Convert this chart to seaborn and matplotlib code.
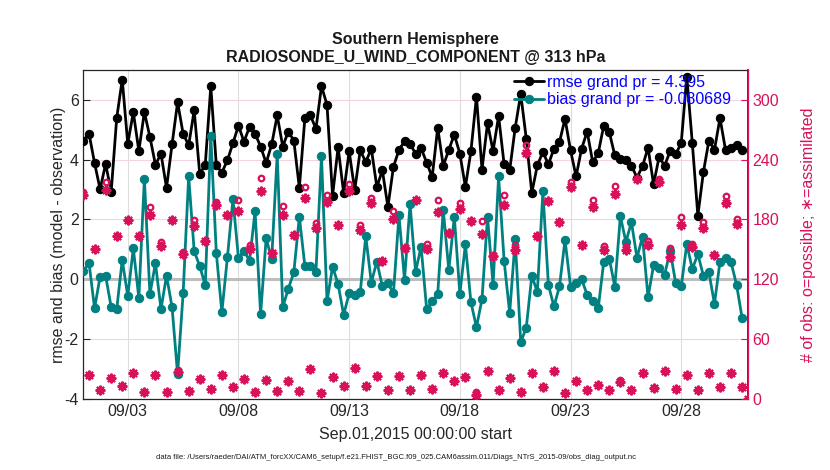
import numpy as np
import pandas as pd
import matplotlib
matplotlib.use("Agg")
import matplotlib.pyplot as plt
import seaborn as sns

# ---------------- data ----------------
title_lines = ["Southern Hemisphere", "RADIOSONDE_U_WIND_COMPONENT @ 313 hPa"]
xtick_days = [2, 7, 12, 17, 22, 27]
xtick_labels = ["09/03", "09/08", "09/13", "09/18", "09/23", "09/28"]
left_ticks = [-4, -2, 0, 2, 4, 6]
right_ticks = [0, 60, 120, 180, 240, 300]

rmse = [4.64, 4.87, 3.89, 3.01, 3.86, 2.92, 5.39, 6.68, 4.53, 5.59,
        4.29, 5.59, 4.76, 3.83, 4.20, 3.06, 4.51, 5.92, 4.87, 4.48,
        5.65, 3.52, 3.83, 6.45, 3.81, 3.57, 3.98, 4.55, 5.14, 4.60,
        5.10, 4.87, 4.44, 3.89, 4.51, 5.48, 4.44, 4.94, 4.64, 3.06,
        5.39, 5.48, 5.03, 6.46, 5.83, 2.79, 4.42, 2.89, 4.28, 2.98,
        4.31, 3.92, 4.37, 3.09, 3.64, 2.42, 3.76, 4.33, 4.61, 4.53,
        4.20, 4.39, 3.90, 3.42, 5.07, 3.79, 4.33, 4.84, 4.20, 3.09,
        4.28, 6.11, 3.67, 5.22, 4.29, 5.46, 3.84, 3.64, 5.07, 6.20,
        4.70, 2.89, 3.81, 4.26, 3.84, 4.37, 4.59, 5.37, 4.31, 3.44,
        4.37, 4.94, 3.92, 4.22, 5.14, 4.92, 4.14, 4.03, 4.00, 3.80,
        3.40, 3.78, 4.40, 3.18, 4.09, 3.80, 4.29, 4.18, 4.56, 6.78,
        4.56, 2.13, 3.58, 4.64, 4.33, 5.39, 4.33, 4.40, 4.49, 4.31, np.nan]

bias = [0.28, 0.54, -0.97, 0.09, 0.11, -0.93, -1.00, 0.64, -0.56, 1.04,
        -0.63, 3.37, -0.50, 0.54, -1.00, 0.12, -0.93, -3.17, -0.47, 3.44,
        0.94, 0.44, -0.20, 4.80, 0.87, -1.10, 0.73, 2.67, 0.70, 0.95,
        0.62, 2.28, -1.17, 1.37, 0.67, 4.18, -0.93, -0.32, 0.23, 2.09,
        0.44, 0.44, 0.26, 4.12, -0.74, 0.42, -0.16, -1.19, -0.47, -0.52,
        -0.44, 1.44, -0.11, 0.59, -0.24, -0.13, -0.47, 2.14, -0.02, 2.51,
        0.26, 1.09, -1.00, -0.74, -0.49, 2.33, 0.31, 2.09, -0.49, 1.17,
        -0.77, -1.60, -0.67, 2.09, -0.19, 3.44, 0.61, -1.13, 1.34, -2.10,
        -1.62, 0.12, -0.43, 2.94, -0.19, -0.91, -0.24, 1.32, -0.25, -0.12,
        0.00, -0.52, -0.74, -0.97, 0.59, 0.69, -0.25, 2.11, 1.25, 1.91,
        0.72, 1.42, -0.60, 0.47, 0.37, 0.16, 0.95, -0.13, -0.24, 1.18,
        0.34, 0.84, 0.12, 0.23, -0.82, 0.59, 0.70, 0.57, -0.19, -1.30, np.nan]

n_possible = [208, 24, 150, 9, 218, 21, 163, 13, 179, 26,
              163, 7, 193, 24, 157, 7, 179, 29, 147, 8,
              179, 20, 158, 10, 198, 24, 184, 12, 200, 20,
              154, 7, 222, 19, 146, 8, 194, 18, 164, 8,
              213, 30, 176, 6, 205, 22, 174, 13, 216, 31,
              174, 13, 202, 23, 138, 9, 189, 23, 151, 9,
              200, 24, 155, 10, 200, 26, 166, 18, 197, 22,
              178, 7, 178, 28, 143, 9, 205, 21, 154, 7,
              255, 26, 163, 12, 199, 28, 177, 6, 218, 18,
              154, 9, 200, 14, 153, 9, 214, 19, 153, 9,
              221, 26, 158, 11, 221, 28, 151, 10, 182, 24,
              155, 9, 177, 26, 144, 12, 204, 26, 180, 12, 0]

n_used = [205, 24, 150, 9, 210, 21, 163, 13, 179, 26,
          163, 7, 184, 24, 153, 7, 179, 27, 145, 8,
          173, 20, 158, 10, 195, 24, 184, 12, 189, 20,
          150, 7, 209, 19, 146, 8, 185, 18, 164, 8,
          202, 30, 171, 6, 198, 22, 174, 13, 209, 31,
          169, 13, 197, 23, 138, 9, 180, 23, 151, 9,
          200, 24, 150, 10, 188, 26, 166, 18, 191, 22,
          178, 4, 165, 28, 143, 9, 195, 21, 149, 7,
          247, 26, 163, 12, 199, 28, 177, 6, 213, 18,
          154, 9, 193, 14, 149, 9, 206, 17, 149, 9,
          221, 26, 154, 11, 218, 28, 142, 10, 174, 24,
          152, 9, 171, 26, 144, 12, 197, 26, 175, 12, 0]

days = np.arange(len(n_used)) * 0.25
df = pd.DataFrame({"day": days, "rmse": rmse, "bias": bias,
                   "possible": n_possible, "used": n_used})

# ---------------- style ----------------
sns.set_theme(style="white")
plt.rcParams["font.family"] = ["Liberation Sans", "DejaVu Sans"]

BLACK = "#000000"
TEAL = "#008080"
CRIM = "#D9105A"
BLUE = "#0000FF"

fig = plt.figure(figsize=(8.3, 4.7), dpi=100)
ax = fig.add_axes([0.1006, 0.1513, 0.8002, 0.6998])

ax.axhline(0, color="#BDBDBD", lw=2.2, zorder=1)

sns.lineplot(data=df, x="day", y="rmse", ax=ax, color=BLACK, lw=2,
             marker="o", markersize=6, markeredgecolor=BLACK,
             label="rmse grand pr = 4.395", zorder=3, sort=False)
sns.lineplot(data=df, x="day", y="bias", ax=ax, color=TEAL, lw=2,
             marker="o", markersize=6, markeredgecolor=TEAL,
             label="bias grand pr = -0.080689", zorder=3, sort=False)

ax.set_xlim(0, 30)
ax.set_ylim(-4, 7)
ax.set_xticks(xtick_days)
ax.set_xticklabels(xtick_labels)
ax.set_yticks(left_ticks)
ax.set_yticklabels([str(t) for t in left_ticks])
ax.grid(False)
ax.xaxis.grid(True, color="#DDDDDD", lw=0.8)
ax.yaxis.grid(True, color="#F6D3E2", lw=0.8)
ax.set_axisbelow(True)
ax.tick_params(axis="both", direction="in", length=5, labelsize=11.5,
               colors="#262626", width=0.8)
ax.tick_params(axis="y", right=False)
for s in ["left", "bottom", "top"]:
    ax.spines[s].set_color("#262626")
    ax.spines[s].set_linewidth(0.9)
ax.set_xlabel("Sep.01,2015 00:00:00 start", fontsize=11.5, color="#262626",
              labelpad=6)
ax.set_ylabel("rmse and bias (model - observation)", fontsize=11.5,
              color="#262626", labelpad=-1)
ax.set_title("\n".join(title_lines), fontsize=11.5, fontweight="bold",
             color="#1a1a1a", pad=6, linespacing=1.25)

leg = ax.legend(loc="upper left", bbox_to_anchor=(0.648, 0.985), frameon=False,
                fontsize=11.5, handlelength=1.9, handletextpad=0.2,
                labelspacing=0.15, borderpad=0, borderaxespad=0)
for t in leg.get_texts():
    t.set_color(BLUE)

ax2 = ax.twinx()
sns.lineplot(data=df, x="day", y="possible", ax=ax2, linestyle="",
             marker="o", markersize=4, markerfacecolor="none",
             markeredgecolor=CRIM, markeredgewidth=1.6, color=CRIM,
             sort=False, zorder=4)
sns.lineplot(data=df, x="day", y="used", ax=ax2, linestyle="",
             marker=(8, 2, 0), markersize=7, markeredgecolor=CRIM,
             markeredgewidth=1.5, color=CRIM, sort=False, zorder=4)
ax2.set_ylim(0, 330)
ax2.set_yticks(right_ticks)
ax2.set_yticklabels([str(t) for t in right_ticks])
ax2.grid(False)
ax2.tick_params(axis="y", direction="in", length=5, labelsize=11.5,
                colors=CRIM, width=0.8)
ax2.spines["right"].set_color(CRIM)
ax2.spines["right"].set_linewidth(0.9)
for s in ["left", "bottom", "top"]:
    ax2.spines[s].set_visible(False)
ax2.set_xlabel("")
ax2.set_ylabel("# of obs: o=possible; \u2217=assimilated", fontsize=11.5,
               color=CRIM, labelpad=16)

fig.text(0.477, 0.027,
         "data file: /Users/raeder/DAI/ATM_forcXX/CAM6_setup/f.e21.FHIST_BGC.f09_025.CAM6assim.011/Diags_NTrS_2015-09/obs_diag_output.nc",
         fontsize=5.5, ha="center", va="center", color="#1a1a1a")

fig.savefig("out.png", dpi=100)
